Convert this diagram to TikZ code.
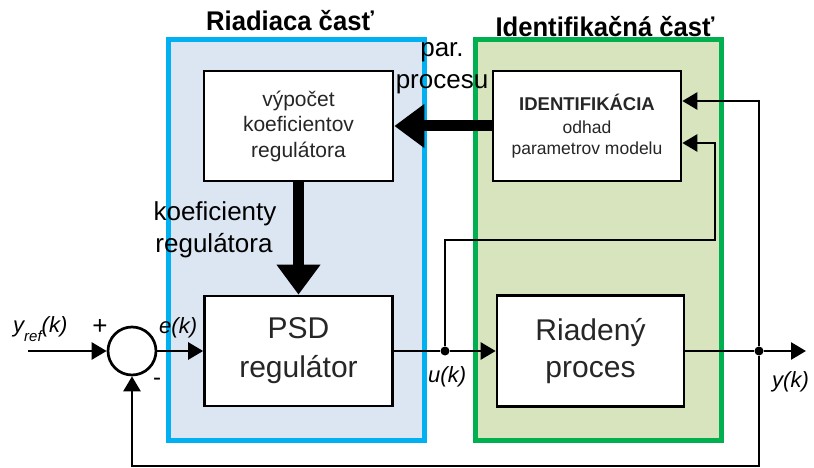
\documentclass[tikz,border=0pt]{standalone}
\usepackage{fontspec}
\setmainfont{Liberation Sans}
\usetikzlibrary{arrows.meta,calc}
\definecolor{bluebd}{HTML}{00B0F0}
\definecolor{bluefill}{HTML}{DCE6F2}
\definecolor{greenbd}{HTML}{00B050}
\definecolor{greenfill}{HTML}{D7E4BD}
\definecolor{txt}{HTML}{262626}
\begin{document}
\begin{tikzpicture}[x=1pt,y=-1pt,
 blk/.style={draw=black, line width=2.7pt, fill=white, inner sep=0pt, align=center, text=txt},
 sig/.style={line width=2.7pt, -{Triangle[length=15pt,width=17pt]}},
 wire/.style={line width=2.7pt},
 fat/.style={line width=11pt, -{Triangle[length=30pt,width=42pt]}},
 dot/.style={circle, fill=black, inner sep=0pt, minimum size=9pt},
 lbl/.style={inner sep=0pt, anchor=base west, font=\fontsize{22}{22}\selectfont\itshape},
 plain/.style={inner sep=0pt, anchor=base}]
\useasboundingbox (0,0) rectangle (814,468);
\draw[draw=bluebd, fill=bluefill, line width=5pt] (168,40) rectangle (424,440);
\draw[draw=greenbd, fill=greenfill, line width=5pt] (475,40) rectangle (721,440);

\node[blk, minimum width=189pt, minimum height=110pt, font=\fontsize{21}{25.5}\selectfont] (vyp) at (298.5,126) {výpočet\\koeficientov\\regulátora};
\node[blk, minimum width=188pt, minimum height=110pt, font=\fontsize{17.5}{21}\selectfont] (ident) at (587,126) {{\fontsize{18.5}{21}\selectfont\bfseries IDENTIFIKÁCIA}\\[2pt]odhad\\parametrov modelu};
\node[blk, minimum width=188pt, minimum height=110pt, font=\fontsize{30}{39}\selectfont] (psd) at (298.5,351) {PSD\\regulátor};
\node[blk, minimum width=187pt, minimum height=111pt, font=\fontsize{30}{37}\selectfont] (proc) at (590.5,351) {Riadený\\proces};
\node[circle, draw, line width=2.7pt, minimum size=48pt, inner sep=0pt] (sum) at (132,351) {};

\coordinate (in) at (28,351);
\node[dot] (uj) at (445,351) {};
\node[dot] (yj) at (759,351) {};
\coordinate (out) at (806,351);
\coordinate (ubend) at (715,240);
\coordinate (fbend) at (759,466);

\draw[sig] (in) -- (sum.west);
\draw[sig] (sum.east) -- (psd.west);
\draw[wire] (psd.east) -- (uj);
\draw[sig] (uj) -- (proc.west);
\draw[wire] (proc.east) -- (yj);
\draw[sig] (yj) -- (out);
\draw[sig] (yj) |- ([yshift=25pt]ident.east);
\draw[sig] (uj) |- (ubend) |- ([yshift=-17pt]ident.east);
\draw[sig] (yj) -- (fbend) -| (sum.south);
\draw[fat] (ident.west) -- (vyp.east);
\draw[fat] (vyp.south) -- (psd.north);

\node[plain, xscale=0.95, font=\fontsize{27}{27}\selectfont\bfseries] (t1) at (290,31) {Riadiaca časť};
\node[plain, xscale=0.95, font=\fontsize{27}{27}\selectfont\bfseries] (t2) at (605,37) {Identifikačná časť};
\node[plain, font=\fontsize{26}{26}\selectfont] (par) at (442,57) {par.};
\node[plain, font=\fontsize{26}{26}\selectfont] (procesu) at (442,89) {procesu};
\node[plain, font=\fontsize{26}{26}\selectfont] (koef1) at (215,220) {koeficienty};
\node[plain, font=\fontsize{26}{26}\selectfont] (koef2) at (214,252) {regulátora};

\node[lbl] (yref) at (13,332) {y\raisebox{-9pt}{\fontsize{15}{15}\selectfont ref}(k)};
\node[plain, font=\fontsize{26}{26}\selectfont] (plus) at (100,334) {+};
\node[plain, font=\fontsize{24}{24}\selectfont] (minus) at (157,385) {-};
\node[lbl] (ek) at (159,333) {e(k)};
\node[lbl] (uk) at (428,382) {u(k)};
\node[lbl] (yk) at (772,387) {y(k)};
\end{tikzpicture}
\end{document}
